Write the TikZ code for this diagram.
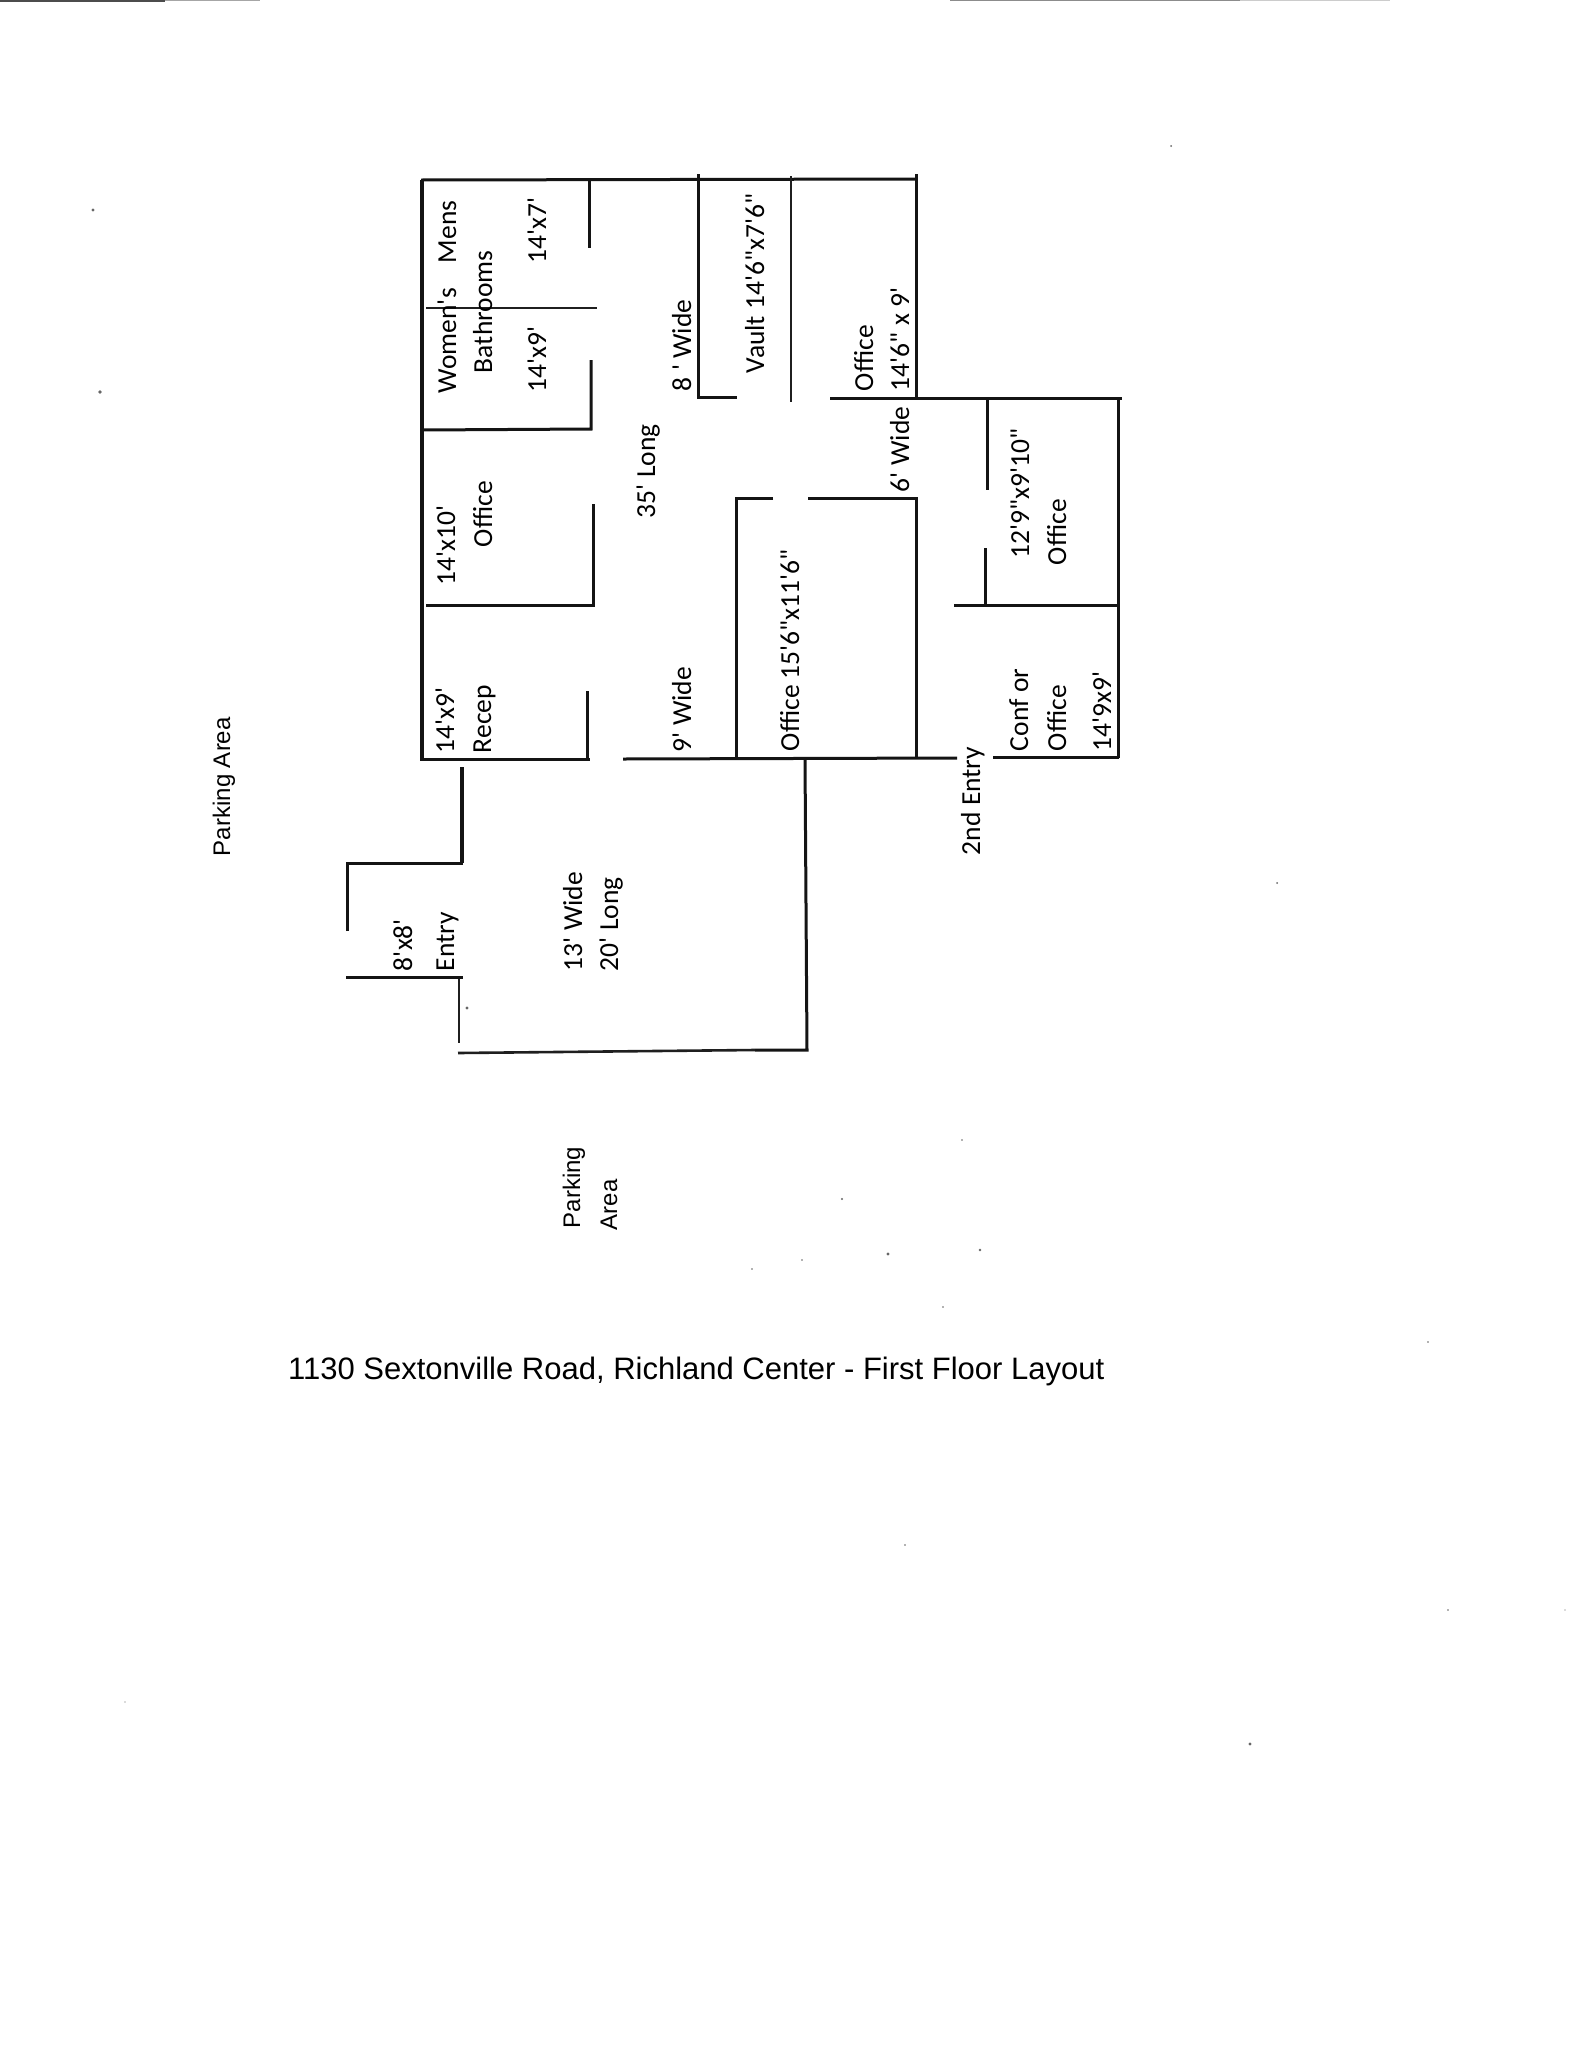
\documentclass[tikz,border=0pt]{standalone}
\usepackage{fontspec}
\newfontfamily\calfont{Carlito}
\newfontfamily\arialfont{Liberation Sans}
\tikzset{
  wall/.style={line width=3pt,draw=black!92,line cap=butt},
  heavywall/.style={line width=3.3pt,draw=black!92},
  lightwall/.style={line width=2.6pt,draw=black!88},
  lbl/.style={rotate=90,anchor=base west,inner sep=0pt,outer sep=0pt,text=black,font=\calfont\fontsize{27.5}{30}\selectfont},
  arlbl/.style={lbl,font=\arialfont\fontsize{24}{28}\selectfont},
  speck/.style={fill=black!60,draw=none}
}
\begin{document}
\begin{tikzpicture}[x=1pt,y=-1pt]
\useasboundingbox (0,0) rectangle (1583,2048);
\fill[white] (0,0) rectangle (1583,2048);
% scanner shadow at the top edge
\fill[black!70] (0,0) rectangle (165,1.6);
\fill[black!35] (165,0) rectangle (260,1.2);
\fill[black!45] (950,0) rectangle (1240,1.4);
\fill[black!20] (1240,0) rectangle (1390,1.2);
% specks
\foreach \px/\py/\pr in {93/210/1.6,100/392/1.8,1171/146/1,842/1199/1.2,888/1254/1.6,980/1250/1.4,1250/1744/1.6,1277/883/1,905/1545/0.9,962/1140/0.9,752/1269/0.9,802/1260/0.9,943/1307/0.9,467/1008/1.6,1448/1610/0.8,1428/1342/0.8,1565/1610/0.7,125/1702/0.7}
  \fill[speck] (\px,\py) circle (\pr);
% outer and upper walls
\draw[heavywall] (422,759) -- (422,180);
\draw[wall] (421,180) -- (916,179);
\draw[wall] (916,174) -- (916,398);
\draw[wall] (589,180) -- (589,248);
\draw[lightwall] (426,308) -- (597,308);
\draw[wall] (591,360) -- (591,429) -- (422,430);
\draw[wall] (593,504) -- (593,605);
\draw[wall] (426,605) -- (595,605);
\draw[wall] (420,759) -- (590,759);
\draw[wall] (587,691) -- (587,759);
\draw[wall] (623,759) -- (957,758);
\draw[wall] (993,757) -- (1119,757);
\draw[wall] (1118,398) -- (1118,758);
\draw[wall] (830,398) -- (1122,398);
\draw[wall] (987,398) -- (987,490);
\draw[wall] (985,548) -- (985,607);
\draw[wall] (954,605) -- (1118,605);
% vault
\draw[wall] (698,174) -- (698,397) -- (737,397);
\draw[lightwall] (791,176) -- (791,402);
% office 15'6"
\draw[wall] (773,498) -- (736,498) -- (736,759);
\draw[wall] (808,498) -- (916,498) -- (916,758);
% large room
\draw[wall] (805,759) -- (807,1050) -- (755,1050);
\draw[lightwall] (755,1050) -- (458,1053);
\draw[lightwall] (459,977) -- (459,1043);
\draw[wall] (346,977) -- (463,977);
\draw[wall] (347,931) -- (347,863) -- (463,863);
\draw[heavywall] (462,767) -- (462,863);
% room labels
\node[lbl] (women) at (456,393) {Women's};
\node[lbl] (mens) at (456,263) {Mens};
\node[lbl] (bath) at (492,373) {Bathrooms};
\node[lbl] (sevn) at (546,263) {14'x7'};
\node[lbl] (nine) at (546,392) {14'x9'};
\node[lbl] (eightw) at (691,391) {8 ' Wide};
\node[lbl] (vault) at (764,373) {Vault 14'6"x7'6"};
\node[lbl] (offa) at (873,391) {Office};
\node[lbl] (offas) at (909,391) {14'6" x 9'};
\node[lbl] (sixw) at (909,492) {6' Wide};
\node[lbl] (long) at (655,518) {35' Long};
\node[lbl] (ten) at (455,585) {14'x10'};
\node[lbl] (offb) at (492,547) {Office};
\node[lbl] (twelve) at (1029,558) {12'9"x9'10"};
\node[lbl] (offc) at (1066,565) {Office};
\node[lbl] (rec) at (454,753) {14'x9'};
\node[lbl] (recep) at (491,753) {Recep};
\node[lbl] (ninew) at (691,752) {9' Wide};
\node[lbl] (offd) at (799,751) {Office 15'6"x11'6"};
\node[lbl] (eight) at (412,971) {8'x8'};
\node[lbl] (entry) at (454,971) {Entry};
\node[lbl] (thirt) at (582,971) {13' Wide};
\node[lbl] (twent) at (618,971) {20' Long};
\node[lbl] (second) at (980,855) {2nd Entry};
\node[lbl] (conf) at (1028,751) {Conf or};
\node[lbl] (offe) at (1066,751) {Office};
\node[lbl] (conft) at (1111,751) {14'9x9'};
% parking labels
\node[arlbl] (parka) at (230,856) {Parking Area};
\node[arlbl] (parkb) at (580,1228) {Parking};
\node[arlbl] (parkc) at (617,1230) {Area};
% title
\node[anchor=base west,inner sep=0pt,text=black,font=\arialfont\fontsize{31}{34}\selectfont] (title) at (288,1379) {1130 Sextonville Road, Richland Center - First Floor Layout};
\end{tikzpicture}
\end{document}
